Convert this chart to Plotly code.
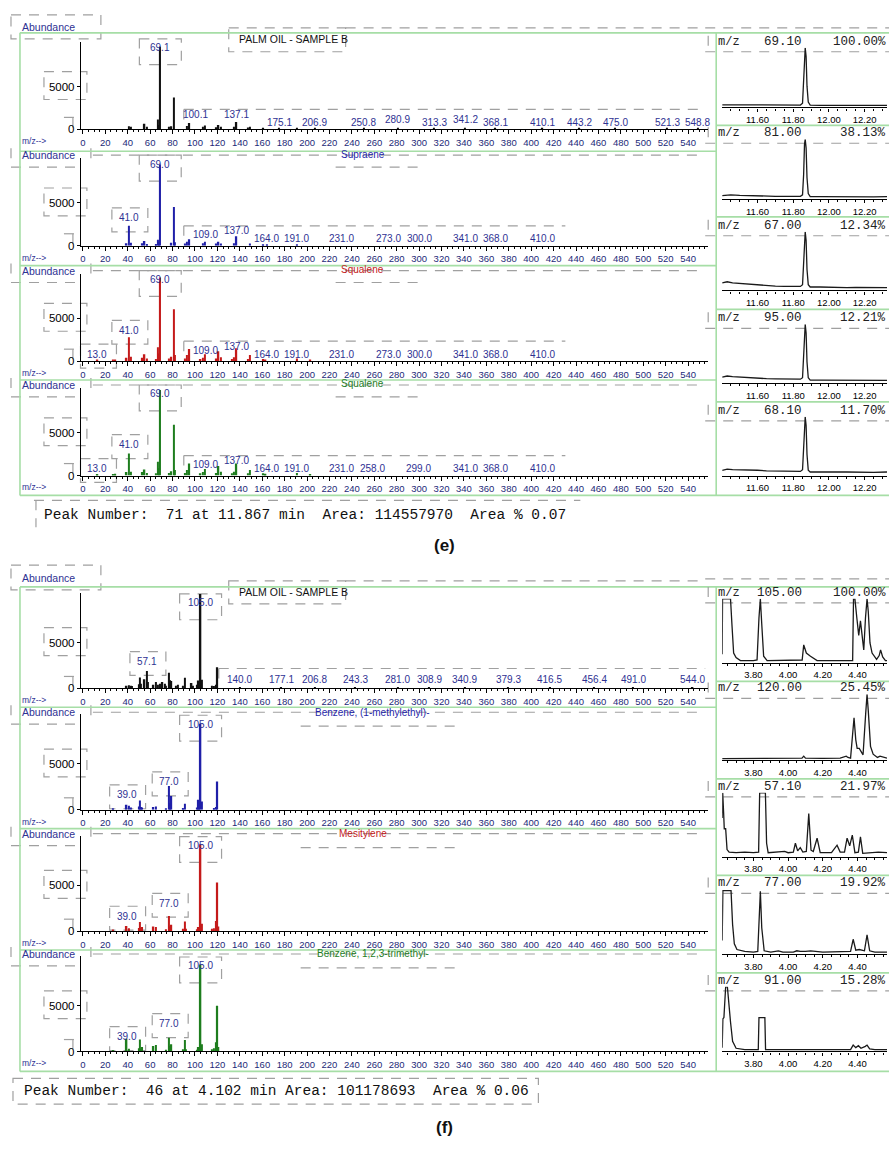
import plotly.graph_objects as go

W, H = 889, 1149

# ======================= DATA =======================
# ---- panel (e) mass spectra: m/z and abundance ----
e1_mz = [41, 43, 55, 57, 67, 68, 69, 77, 79, 81, 93, 95, 107, 109, 119, 121, 123, 135, 137, 147,
         149, 161, 175, 191, 207, 251, 281, 313, 341, 368, 410, 443, 475, 521, 549]
e1_ab = [350, 300, 650, 300, 1160, 500, 9650, 300, 350, 3720, 400, 750, 300, 450, 250, 500, 300, 300, 850, 200,
         300, 150, 150, 150, 120, 100, 120, 100, 120, 100, 120, 100, 100, 100, 100]
e2_mz = [39, 41, 43, 53, 55, 57, 65, 67, 68, 69, 79, 81, 82, 91, 93, 95, 107, 109, 119, 121,
         123, 135, 137, 149, 161, 164, 191]
e2_ab = [300, 2330, 350, 300, 550, 200, 200, 700, 500, 9500, 350, 4530, 400, 250, 450, 750, 300, 450, 250, 450,
         250, 300, 1100, 250, 150, 100, 100]
e3_mz = [13, 27, 29, 39, 41, 43, 53, 55, 57, 65, 67, 68, 69, 77, 79, 81, 82, 91, 93, 95,
         105, 107, 109, 119, 121, 123, 133, 135, 137, 147, 149, 161, 163, 191, 203]
e3_ab = [100, 150, 200, 400, 2790, 500, 400, 800, 300, 250, 1630, 900, 9770, 300, 500, 6050, 700, 300, 700, 1400,
         250, 400, 800, 300, 1160, 450, 250, 450, 1500, 250, 700, 250, 200, 300, 150]
e4_mz = [13, 27, 29, 39, 41, 43, 53, 55, 57, 65, 67, 68, 69, 77, 79, 81, 82, 91, 93, 95,
         105, 107, 109, 119, 121, 123, 133, 135, 137, 147, 149, 161, 163, 191, 203]
e4_ab = [100, 150, 200, 400, 2560, 450, 400, 700, 300, 250, 1600, 850, 10000, 300, 500, 5930, 650, 300, 650, 1400,
         250, 400, 750, 300, 1100, 450, 250, 450, 1400, 250, 650, 250, 200, 280, 150]

e_titles = ["PALM OIL - SAMPLE B", "Supraene", "Squalene", "Squalene"]
e1_labels = ["69.1", "100.1", "137.1", "175.1", "206.9", "250.8", "280.9", "313.3", "341.2", "368.1",
             "410.1", "443.2", "475.0", "521.3", "548.8"]
e2_labels = ["69.0", "41.0", "109.0", "137.0", "164.0", "191.0", "231.0", "273.0", "300.0", "341.0", "368.0", "410.0"]
e3_labels = ["69.0", "41.0", "13.0", "109.0", "137.0", "164.0", "191.0", "231.0", "273.0", "300.0", "341.0", "368.0", "410.0"]
e4_labels = ["69.0", "41.0", "13.0", "109.0", "137.0", "164.0", "191.0", "231.0", "258.0", "299.0", "341.0", "368.0", "410.0"]

# ---- panel (f) mass spectra ----
f1_mz = [39, 41, 43, 44, 50, 51, 52, 55, 57, 58, 63, 65, 67, 69, 71, 73, 74, 77, 78, 79,
         83, 85, 89, 91, 97, 98, 102, 103, 104, 105, 106, 115, 117, 119, 120, 140, 177, 207, 243, 281,
         309, 341, 379, 417, 456, 491, 544]
f1_ab = [300, 350, 300, 250, 450, 1200, 500, 1000, 1900, 700, 400, 700, 400, 500, 700, 500, 300, 1700, 900, 800,
         300, 400, 300, 1150, 600, 300, 400, 850, 500, 10300, 950, 300, 250, 400, 2300, 150, 120, 120, 100, 120,
         100, 120, 100, 120, 100, 100, 120]
f2_mz = [27, 39, 41, 43, 50, 51, 52, 53, 63, 65, 74, 77, 78, 79, 89, 91, 102, 103, 104, 105, 106, 117, 119, 120]
f2_ab = [150, 550, 450, 250, 350, 1000, 300, 250, 300, 350, 150, 2600, 700, 1500, 200, 650, 250, 1100, 500, 9400,
         900, 200, 300, 3100]
f3_mz = [27, 39, 41, 50, 51, 52, 53, 63, 65, 74, 77, 78, 79, 89, 91, 92, 102, 103, 104, 105, 106, 115, 117, 119, 120, 121]
f3_ab = [150, 550, 300, 350, 1000, 300, 450, 500, 450, 200, 1650, 500, 700, 250, 1050, 250, 200, 450, 300, 9500,
         800, 250, 300, 1100, 5300, 500]
f4_mz = [27, 39, 41, 50, 51, 52, 53, 63, 65, 74, 77, 78, 79, 89, 91, 92, 102, 103, 104, 105, 106, 115, 117, 119, 120, 121]
f4_ab = [150, 1400, 300, 350, 1300, 300, 500, 600, 700, 200, 1500, 600, 800, 250, 1250, 250, 200, 500, 300, 9500,
         800, 250, 350, 1000, 5000, 500]

f_titles = ["PALM OIL - SAMPLE B", "Benzene, (1-methylethyl)-", "Mesitylene", "Benzene, 1,2,3-trimethyl-"]
f1_labels = ["105.0", "57.1", "140.0", "177.1", "206.8", "243.3", "281.0", "308.9", "340.9", "379.3",
             "416.5", "456.4", "491.0", "544.0"]
f2_labels = ["105.0", "39.0", "77.0"]
f3_labels = ["105.0", "39.0", "77.0"]
f4_labels = ["105.0", "39.0", "77.0"]

# ---- panel (e) extracted ion chromatograms (time min, % intensity) ----
ce1_t = [11.402, 11.50, 11.60, 11.70, 11.80, 11.84, 11.852, 11.858, 11.863, 11.867, 11.872, 11.877, 11.884,
         11.895, 11.95, 12.05, 12.15, 12.25, 12.325]
ce1_i = [3.5, 3.5, 3.0, 3.0, 3.0, 3.0, 6, 40, 90, 100, 85, 35, 8, 3.0, 2.5, 2.5, 2.5, 2.5, 2.5]
ce2_t = [11.402, 11.45, 11.50, 11.60, 11.70, 11.80, 11.84, 11.852, 11.858, 11.863, 11.867, 11.872, 11.877,
         11.884, 11.895, 11.95, 12.05, 12.15, 12.25, 12.325]
ce2_i = [4.5, 6, 5, 4, 3.5, 3.5, 3.5, 6, 40, 92, 100, 85, 35, 8, 3, 3, 2.5, 3, 2.5, 3]
ce3_t = [11.402, 11.43, 11.46, 11.50, 11.55, 11.60, 11.65, 11.70, 11.75, 11.80, 11.84, 11.852, 11.858, 11.863,
         11.867, 11.872, 11.877, 11.884, 11.895, 11.95, 12.00, 12.05, 12.10, 12.15, 12.20, 12.25, 12.325]
ce3_i = [12, 14, 12, 11, 9, 8, 7, 6.5, 6, 6, 6, 9, 42, 92, 100, 85, 35, 9, 5, 5, 4.5, 5, 4, 4.5, 4, 4.5, 4]
ce4_t = [11.402, 11.43, 11.46, 11.50, 11.55, 11.60, 11.65, 11.70, 11.75, 11.80, 11.84, 11.852, 11.858, 11.863,
         11.867, 11.872, 11.877, 11.884, 11.895, 11.95, 12.00, 12.05, 12.10, 12.15, 12.20, 12.25, 12.325]
ce4_i = [9, 11, 10, 9, 8, 7, 6.5, 6, 6, 5.5, 5.5, 8, 42, 92, 100, 85, 35, 8, 4, 4, 4, 3.5, 4, 3.5, 3.5, 4, 3.5]
ce5_t = [11.402, 11.43, 11.46, 11.50, 11.55, 11.60, 11.65, 11.70, 11.75, 11.80, 11.84, 11.852, 11.858, 11.863,
         11.867, 11.872, 11.877, 11.884, 11.895, 11.95, 12.00, 12.05, 12.10, 12.15, 12.20, 12.25, 12.325]
ce5_i = [8, 10, 9, 9, 8, 8, 7, 7, 6.5, 6, 6, 9, 42, 92, 100, 85, 35, 8, 5, 5, 4.5, 5, 5, 4.5, 5, 4.5, 5]
e_ion = ["69.10", "81.00", "67.00", "95.00", "68.10"]
e_pct = ["100.00%", "38.13%", "12.34%", "12.21%", "11.70%"]

# ---- panel (f) extracted ion chromatograms ----
cf1_t = [3.620, 3.622, 3.630, 3.668, 3.676, 3.686, 3.70, 3.725, 3.80, 3.821, 3.832, 3.840, 3.848, 3.859, 3.879,
         4.00, 4.081, 4.090, 4.105, 4.129, 4.167, 4.30, 4.372, 4.377, 4.385, 4.396, 4.407, 4.417, 4.426, 4.436,
         4.446, 4.455, 4.462, 4.472, 4.484, 4.51, 4.525, 4.533, 4.545, 4.561, 4.57]
cf1_i = [12, 100, 100, 100, 60, 14, 7, 2, 2, 3, 70, 100, 60, 9, 2, 2, 3, 27, 14, 9, 2, 2, 2, 100, 100, 70, 42,
         65, 40, 19, 70, 100, 80, 30, 14, 4, 10, 19, 8, 2, 2]
cf2_t = [3.62, 3.70, 3.80, 3.90, 4.00, 4.08, 4.09, 4.10, 4.20, 4.30, 4.335, 4.345, 4.36, 4.372, 4.380, 4.390,
         4.398, 4.410, 4.420, 4.432, 4.447, 4.455, 4.462, 4.475, 4.49, 4.515, 4.530, 4.545, 4.56, 4.57]
cf2_i = [1, 1, 1, 1, 1.5, 2, 5, 2, 1.5, 2, 5, 3, 2, 40, 64, 30, 17, 17, 12, 7, 70, 100, 75, 20, 8, 3, 5, 4, 2, 2]
cf3_t = [3.620, 3.623, 3.628, 3.632, 3.640, 3.648, 3.66, 3.70, 3.75, 3.80, 3.830, 3.836, 3.869, 3.876, 3.885,
         3.95, 3.98, 4.00, 4.030, 4.042, 4.055, 4.070, 4.085, 4.105, 4.119, 4.132, 4.145, 4.167, 4.185, 4.25,
         4.282, 4.30, 4.325, 4.340, 4.355, 4.370, 4.385, 4.405, 4.417, 4.430, 4.47, 4.52, 4.57]
cf3_i = [60, 100, 70, 43, 43, 10, 6, 5, 6, 5, 6, 100, 100, 20, 5, 6, 7, 5, 6, 20, 8, 13, 6, 7, 67, 9, 7, 28, 5,
         5, 17, 6, 6, 28, 16, 33, 5, 6, 30, 4, 5, 6, 5]
cf4_t = [3.620, 3.624, 3.671, 3.680, 3.690, 3.705, 3.75, 3.80, 3.825, 3.834, 3.840, 3.848, 3.862, 3.90, 3.944,
         3.97, 4.03, 4.05, 4.07, 4.10, 4.13, 4.20, 4.30, 4.36, 4.375, 4.39, 4.41, 4.44, 4.455, 4.47, 4.50, 4.57]
cf4_i = [20, 98, 98, 45, 15, 6, 3, 2, 3, 60, 97, 40, 4, 2, 4, 2, 2, 4, 3, 3, 4, 2, 2, 3, 22, 5, 6, 4, 29, 4, 2, 2]
cf5_t = [3.620, 3.624, 3.630, 3.640, 3.650, 3.660, 3.668, 3.680, 3.700, 3.75, 3.80, 3.828, 3.832, 3.866, 3.870,
         3.90, 4.00, 4.10, 4.20, 4.30, 4.36, 4.375, 4.39, 4.405, 4.42, 4.445, 4.455, 4.47, 4.50, 4.57]
cf5_i = [5, 50, 52, 100, 100, 60, 45, 15, 4, 2, 2, 2, 52, 52, 2, 2, 2, 3, 2, 2, 2, 9, 5, 8, 4, 7, 9, 3, 2, 2]
f_ion = ["105.00", "120.00", "57.10", "77.00", "91.00"]
f_pct = ["100.00%", "25.45%", "21.97%", "19.92%", "15.28%"]

e_peak_text = "Peak Number:  71 at 11.867 min  Area: 114557970  Area % 0.07"
f_peak_text = "Peak Number:  46 at 4.102 min Area: 101178693  Area % 0.06"

# ======================= STYLE / LAYOUT =======================
SANS = "Liberation Sans, Arial, sans-serif"
MONO = "Liberation Mono, Courier New, monospace"
NAVY = "#1d2a78"
LBLUE = "#2e3192"
GREEN = "#a6dea6"
DASH = "#a0a0a0"
DPAT = "10px,8px"


def X(p):
    return p / W


def Y(p):
    return 1 - p / H


layout = dict(width=W, height=H, margin=dict(l=0, r=0, t=0, b=0), paper_bgcolor="white",
              plot_bgcolor="rgba(0,0,0,0)", showlegend=False)
shapes, annotations, traces = [], [], []
counter = [0]


def new_axes(x0, x1, ytop, ybot, xkw, ykw):
    counter[0] += 1
    i = counter[0]
    xa = "xaxis" if i == 1 else f"xaxis{i}"
    ya = "yaxis" if i == 1 else f"yaxis{i}"
    xr = "x" if i == 1 else f"x{i}"
    yr = "y" if i == 1 else f"y{i}"
    layout[xa] = dict(domain=[X(x0), X(x1)], anchor=yr, fixedrange=True, **xkw)
    layout[ya] = dict(domain=[Y(ybot), Y(ytop)], anchor=xr, fixedrange=True, **ykw)
    return xr, yr


def line(x0, y0, x1, y1, color=DASH, width=1.2, dash=DPAT):
    shapes.append(dict(type="line", xref="paper", yref="paper", x0=X(x0), y0=Y(y0), x1=X(x1), y1=Y(y1),
                       line=dict(color=color, width=width, dash=dash), layer="below"))


def rect(x0, y0, x1, y1):
    shapes.append(dict(type="rect", xref="paper", yref="paper", x0=X(x0), y0=Y(y0), x1=X(x1), y1=Y(y1),
                       line=dict(color=DASH, width=1.2, dash=DPAT), fillcolor="rgba(0,0,0,0)", layer="below"))


def text(x, y, s, size, color, family=SANS, xanchor="left"):
    annotations.append(dict(xref="paper", yref="paper", x=X(x), y=Y(y), text=s, showarrow=False,
                            xanchor=xanchor, yanchor="middle", borderpad=0,
                            font=dict(size=size, color=color, family=family)))


MZ0 = 82.0
SC = 1.122
XL, XR = 80, 708
MZ_RANGE = [(XL - MZ0) / SC, (XR - MZ0) / SC]


def mzpx(v):
    return MZ0 + v * SC


def spectrum(base, hpx, px5000, mz, ab, color, labels, offsets, boxes):
    upp = 5000.0 / px5000
    xr, yr = new_axes(
        XL, XR, base - hpx, base,
        dict(range=MZ_RANGE, showline=True, linecolor="black", linewidth=1, ticks="outside", ticklen=4,
             tickcolor="black", tick0=0, dtick=20, tickfont=dict(size=9.5, color=NAVY, family=SANS),
             minor=dict(ticks="outside", ticklen=2, tickcolor="black", dtick=5, tick0=0),
             showgrid=False, zeroline=False),
        dict(range=[0, hpx * upp], showline=True, linecolor="black", linewidth=1.2, ticks="outside",
             ticklen=3, tickcolor="black", tickmode="array", tickvals=[0, 5000], ticktext=["0", "5000"],
             tickfont=dict(size=11.5, color="black", family=SANS), showgrid=False, zeroline=False))
    traces.append(go.Bar(x=mz, y=ab, width=1.3, marker=dict(color=color, line=dict(width=0)),
                         xaxis=xr, yaxis=yr, hoverinfo="skip"))
    for lab, off, bx in zip(labels, offsets, boxes):
        v = float(lab)
        annotations.append(dict(xref=xr, yref=yr, x=v, y=off * upp, text=lab, showarrow=False,
                                xanchor="center", yanchor="middle", borderpad=0,
                                font=dict(size=10, color=LBLUE, family=SANS)))
        lx, ly = mzpx(v), base - off
        if bx == "main":
            rect(lx - 21, ly - 9, lx + 21, ly + 17)
        elif bx == "sec":
            rect(lx - 17, ly - 10, lx + 19, ly + 14)
    y5 = base - 5000 / upp
    rect(43, y5 - 15, 86, y5 + 13)
    line(63, base - 12, 78, base - 12)
    line(72, base - 12, 72, base + 6)
    text(20, base + 12, "m/z-->", 8.5, LBLUE)
    return xr, yr


def chrom(label_y, tick_y, t, inten, trange, ion, pct, first):
    top = label_y + 6
    axis_y = tick_y - 12
    xr, yr = new_axes(
        722, 887, top, axis_y,
        dict(range=trange, showline=True, linecolor="black", linewidth=1.3, ticks="outside", ticklen=3,
             tickcolor="black", dtick=0.2, tickformat=".2f",
             tickfont=dict(size=9.5, color="black", family=SANS),
             minor=dict(ticks="outside", ticklen=2, tickcolor="black", dtick=0.05),
             showgrid=False, zeroline=False),
        dict(range=[-1, 100], visible=False))
    traces.append(go.Scatter(x=t, y=inten, mode="lines", line=dict(color="#1a1a1a", width=1.3),
                             xaxis=xr, yaxis=yr, hoverinfo="skip", cliponaxis=True))
    text(717, label_y, "m/z", 12, "#222", MONO)
    text(803, label_y, ion, 12.5, "#222", MONO, "right")
    text(887, label_y, pct, 12.5, "#222", MONO, "right")
    line(705, label_y + 10, 889, label_y + 10)
    line(708, label_y - 6, 708, label_y + 6)
    if first:
        line(705, label_y - 14, 889, label_y - 14)


# ---------------- panel (e) ----------------
e_bases = [130, 247, 363, 478]
e_colors = ["#111111", "#1f1fa8", "#c41a1a", "#1e7d1e"]
e_specs = [(e1_mz, e1_ab, e1_labels), (e2_mz, e2_ab, e2_labels), (e3_mz, e3_ab, e3_labels), (e4_mz, e4_ab, e4_labels)]


def e_offsets(labels, k):
    offs, bxs = [], []
    for j, lab in enumerate(labels):
        if j == 0:
            offs.append(82); bxs.append("main")
        elif lab == "41.0":
            offs.append(28 if k == 1 else 31); bxs.append("sec")
        elif lab == "13.0":
            offs.append(7); bxs.append("sec")
        elif lab in ("109.0",):
            offs.append(11); bxs.append(None)
        elif lab in ("137.0", "100.1", "137.1"):
            offs.append(15); bxs.append(None)
        elif lab in ("280.9", "341.2"):
            offs.append(10); bxs.append(None)
        else:
            offs.append(7); bxs.append(None)
    return offs, bxs


for k, (mz, ab, labs) in enumerate(e_specs):
    base = e_bases[k]
    offs, bxs = e_offsets(labs, k)
    spectrum(base, 88, 43, mz, ab, e_colors[k], labs, offs, bxs)
    if k == 0:
        ay, ty = 27, 39
        text(20, ay, "Abundance", 10.5, LBLUE)
        rect(10, ay - 12, 100, ay + 12)
        text(237, ty, e_titles[k], 10.5, "#111")
        rect(228, 28, 345, 52)
        line(345, 28, 705, 28)
        line(183, base - 20, 705, base - 20)
        line(183, base - 20, 183, base - 8)
    else:
        ay = base - 91
        text(20, ay, "Abundance", 10.5, LBLUE)
        line(10, ay - 7, 10, ay + 7)
        line(90, ay - 7, 90, ay + 7)
        line(10, ay + 12, 75, ay + 12)
        line(92, ay, 700, ay)
        line(335, ay + 12, 420, ay + 12)
        text(362, ay - 1, e_titles[k], 10, e_colors[k], SANS, "center")
        line(183, base - 20, 565, base - 20)
        line(183, base - 20, 183, base - 8)

line(19, 33, 889, 33, GREEN, 1.6, "solid")
line(19, 498, 889, 498, GREEN, 1.6, "solid")
line(19, 33, 19, 498, GREEN, 1.6, "solid")
line(716, 33, 716, 498, GREEN, 1.6, "solid")
for yy in [152, 267, 382]:
    line(19, yy, 716, yy, GREEN, 1.6, "solid")
for yy in [126, 218, 311, 404]:
    line(716, yy, 889, yy, GREEN, 1.6, "solid")

e_lab_y = [42, 134, 227, 320, 413]
e_tick_y = [120, 212, 304, 397, 490]
e_chroms = [(ce1_t, ce1_i), (ce2_t, ce2_i), (ce3_t, ce3_i), (ce4_t, ce4_i), (ce5_t, ce5_i)]
for k, (t, it) in enumerate(e_chroms):
    chrom(e_lab_y[k], e_tick_y[k], t, it, [11.402, 12.325], e_ion[k], e_pct[k], k == 0)

text(42, 518, e_peak_text, 14.5, "#111", MONO)
line(33, 503, 580, 503)
line(35, 503, 35, 530)
text(444, 548, "<b>(e)</b>", 17, "#111", SANS, "center")

# ---------------- panel (f) ----------------
f_bases = [692, 814, 936, 1057]
f_colors = ["#111111", "#1f1fa8", "#c41a1a", "#1e7d1e"]
f_specs = [(f1_mz, f1_ab, f1_labels), (f2_mz, f2_ab, f2_labels), (f3_mz, f3_ab, f3_labels), (f4_mz, f4_ab, f4_labels)]


def f_offsets(labels):
    offs, bxs = [], []
    for j, lab in enumerate(labels):
        if j == 0:
            offs.append(86); bxs.append("main")
        elif lab == "57.1":
            offs.append(27); bxs.append("sec")
        elif lab == "39.0":
            offs.append(15); bxs.append("sec")
        elif lab == "77.0":
            offs.append(28); bxs.append("sec")
        else:
            offs.append(9); bxs.append(None)
    return offs, bxs


for k, (mz, ab, labs) in enumerate(f_specs):
    base = f_bases[k]
    offs, bxs = f_offsets(labs)
    spectrum(base, 96, 46, mz, ab, f_colors[k], labs, offs, bxs)
    if k == 0:
        ay, ty = 581, 595
        text(20, ay, "Abundance", 10.5, LBLUE)
        rect(10, ay - 13, 100, ay + 12)
        text(237, ty, f_titles[k], 10.5, "#111")
        rect(228, 584, 345, 607)
        line(345, 584, 705, 584)
        line(218, base - 20, 705, base - 20)
        line(218, base - 20, 218, base - 8)
    else:
        ay = base - 98
        text(20, ay, "Abundance", 10.5, LBLUE)
        line(10, ay - 7, 10, ay + 7)
        line(90, ay - 7, 90, ay + 7)
        line(10, ay + 12, 75, ay + 12)
        line(92, ay, 700, ay)
        line(300, ay + 14, 455, ay + 14)
        text(372 if k != 2 else 362, ay, f_titles[k], 10, f_colors[k], SANS, "center")

line(19, 590, 889, 590, GREEN, 1.6, "solid")
line(19, 1077, 889, 1077, GREEN, 1.6, "solid")
line(19, 590, 19, 1077, GREEN, 1.6, "solid")
line(716, 590, 716, 1077, GREEN, 1.6, "solid")
for yy in [711, 833, 955]:
    line(19, yy, 716, yy, GREEN, 1.6, "solid")
for yy in [685, 783, 880, 978]:
    line(716, yy, 889, yy, GREEN, 1.6, "solid")

f_lab_y = [596, 692, 791, 888, 986]
f_tick_y = [678, 776, 873, 971, 1069]
f_chroms = [(cf1_t, cf1_i), (cf2_t, cf2_i), (cf3_t, cf3_i), (cf4_t, cf4_i), (cf5_t, cf5_i)]
for k, (t, it) in enumerate(f_chroms):
    chrom(f_lab_y[k], f_tick_y[k], t, it, [3.62, 4.57], f_ion[k], f_pct[k], k == 0)

text(22, 1097, f_peak_text, 14.5, "#111", MONO)
rect(12, 1084, 538, 1110)
text(444, 1133, "<b>(f)</b>", 17, "#111", SANS, "center")

layout["shapes"] = shapes
layout["annotations"] = annotations
fig = go.Figure(data=traces, layout=layout)
fig.write_html("out.html")
